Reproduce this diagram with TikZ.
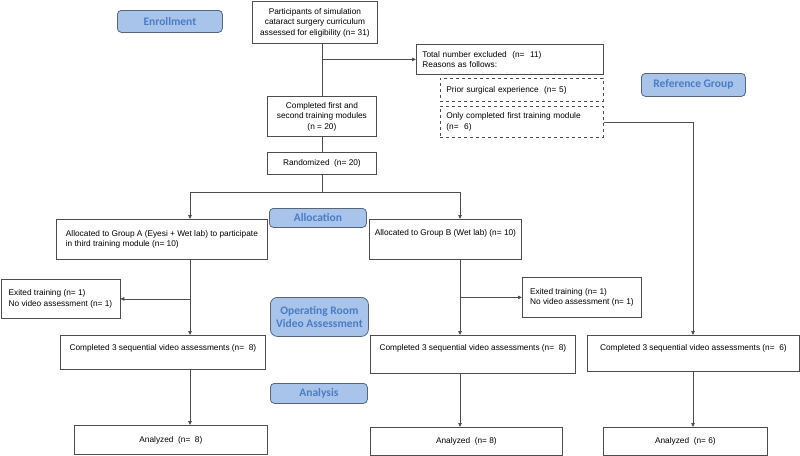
\documentclass[tikz,border=0pt]{standalone}
\usepackage{fontspec}
\setmainfont{Liberation Sans}
\newfontfamily\pillfont{Carlito}
\usetikzlibrary{arrows.meta}

\definecolor{pillfill}{HTML}{A9C4EA}
\definecolor{pilltext}{HTML}{4A7CC4}
\definecolor{pillline}{HTML}{56657A}
\definecolor{boxline}{HTML}{4D4D4D}

\tikzset{
  box/.style = {draw=boxline, line width=0.8pt, anchor=north west, inner sep=3pt,
    font=\fontsize{8.3}{10.5}\selectfont, align=center},
  leftbox/.style = {box, align=left, inner xsep=6pt},
  dashbox/.style = {leftbox, dashed},
  pill/.style = {draw=pillline, fill=pillfill, rounded corners=4pt, anchor=north west,
    text=pilltext, font=\pillfont\bfseries\fontsize{11.5}{13.5}\selectfont, align=center,
    line width=0.8pt},
  arr/.style = {-{Triangle[length=4pt,width=3.5pt]}},
}

\begin{document}
\begin{tikzpicture}[x=1pt, y=-1pt, draw=boxline, line width=0.8pt]
\useasboundingbox (0,0) rectangle (800,455);
% stage labels
\node[pill, minimum width=105, minimum height=22] (enroll) at (117,10) {Enrollment};
\node[pill, minimum width=104, minimum height=23] (refgrp) at (641,73) {Reference Group};
\node[pill, minimum width=97, minimum height=19] (alloc) at (269,208) {Allocation};
\node[pill, minimum width=98, minimum height=39, rounded corners=7pt] (orvid) at (270,297)
  {Operating Room\\Video Assessment};
\node[pill, minimum width=97, minimum height=20] (analysis) at (270,383) {Analysis};
% enrollment
\node[box, minimum width=125, minimum height=42] (part) at (252,1)
  {Participants of simulation\\cataract surgery curriculum\\assessed for eligibility (n= 31)};
\node[leftbox, minimum width=187, minimum height=30, text width=175] (excl) at (416,44)
  {Total number excluded \ (n= \ 11)\\Reasons as follows:};
\node[dashbox, minimum width=163, minimum height=23, text width=151] (prior) at (440,78)
  {Prior surgical experience \ (n= 5)};
\node[dashbox, minimum width=163, minimum height=31, text width=151] (only) at (440,106)
  {Only completed first training module\\(n= \ 6)};
\node[box, minimum width=109, minimum height=40] (comp12) at (267,96)
  {Completed first and\\second training modules\\(n = 20)};
\node[box, minimum width=109, minimum height=22] (rand) at (267,152) {Randomized \ (n= 20)};
% allocation
\node[box, align=left, minimum width=211, minimum height=40] (groupA) at (56,219)
  {Allocated to Group A (Eyesi + Wet lab) to participate\\in third training module (n= 10)};
\node[box, align=left, minimum width=152, minimum height=40, text depth=14.3] (groupB) at (369,219)
  {Allocated to Group B (Wet lab) (n= 10)};
\node[box, align=left, minimum width=119, minimum height=39] (exitA) at (0.5,279)
  {Exited training (n= 1)\\No video assessment (n= 1)};
\node[box, align=left, minimum width=119, minimum height=40] (exitB) at (522,277)
  {Exited training (n= 1)\\No video assessment (n= 1)};
% video assessment
\node[box, minimum width=205, minimum height=34, text depth=10.3] (compA) at (60,335)
  {Completed 3 sequential video assessments (n= \ 8)};
\node[box, minimum width=205, minimum height=38, text depth=14.3] (compB) at (370,335)
  {Completed 3 sequential video assessments (n= \ 8)};
\node[box, minimum width=212, minimum height=36, text depth=12.3] (compR) at (587,335)
  {Completed 3 sequential video assessments (n= \ 6)};
% analysis
\node[box, minimum width=193, minimum height=29] (anA) at (74,425) {Analyzed \ (n= \ 8)};
\node[box, minimum width=192, minimum height=27.5] (anB) at (370,427) {Analyzed \ (n= 8)};
\node[box, minimum width=164, minimum height=27.5] (anR) at (603,427) {Analyzed \ (n= 6)};

\coordinate (colA) at (190,0);
\coordinate (colB) at (460,0);
\coordinate (colR) at (693,0);

\draw (comp12.north |- part.south) -- (comp12.north);
\draw[arr] (comp12.north |- excl.west) -- (excl.west);
\draw (comp12) -- (rand);
\draw (rand.south) -- ++(0,18) coordinate (split);
\draw[arr] (split) -| (colA |- groupA.north);
\draw[arr] (split) -| (colB |- groupB.north);
\draw[arr] (only.east) -| (colR |- compR.north);
% group A
\draw[arr] (colA |- groupA.south) -- (colA |- compA.north);
\draw[arr] (colA |- exitA.east) -- (exitA.east);
\draw[arr] (colA |- compA.south) -- (colA |- anA.north);
% group B
\draw[arr] (colB |- groupB.south) -- (colB |- compB.north);
\draw[arr] (colB |- exitB.west) -- (exitB.west);
\draw[arr] (colB |- compB.south) -- (colB |- anB.north);
% reference group
\draw[arr] (colR |- compR.south) -- (colR |- anR.north);
\end{tikzpicture}
\end{document}
